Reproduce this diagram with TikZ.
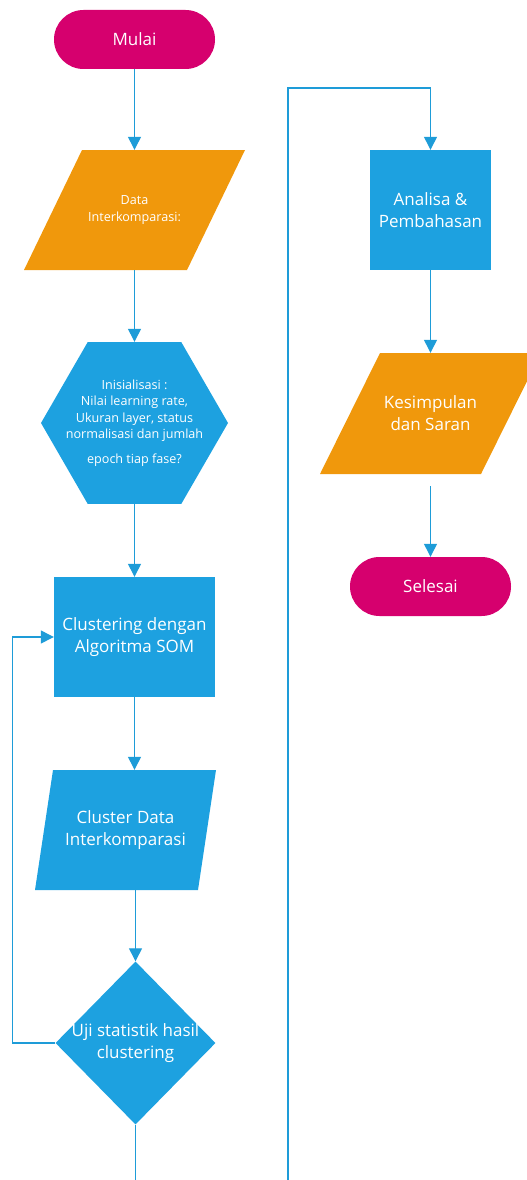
\documentclass[tikz,border=0pt]{standalone}
\usepackage{xcolor}
\usepackage{fontspec}
\setmainfont{Open Sans}
\usepackage{tikz}
\usetikzlibrary{arrows.meta,shapes.geometric,backgrounds}
\definecolor{AlurBiru}{HTML}{1DA1E0}
\definecolor{AlurGaris}{HTML}{1E9CD8}
\definecolor{AlurJingga}{HTML}{F0980C}
\definecolor{AlurMagenta}{HTML}{D6006E}

\begin{document}
\begin{tikzpicture}[x=1pt,y=-1pt,>={Triangle[width=13pt,length=13pt]},
    teks/.style={text=white, align=center, font=\fontsize{17}{22}\selectfont},
    tekskecil/.style={text=white, align=center, font=\fontsize{12.6}{16.5}\selectfont},
    terminal/.style={teks, fill=AlurMagenta, rounded corners=29.5pt, minimum width=161pt, minimum height=59pt, inner sep=0pt},
    proses/.style={teks, fill=AlurBiru, minimum width=161pt, minimum height=120pt, inner sep=0pt},
    iodata/.style={teks, minimum width=163pt, minimum height=120pt, inner sep=0pt},
    alur/.style={->, color=AlurGaris, line width=1.3pt}]
  \clip (0,0) rectangle (527,1180);
  % kolom kiri
  \node[terminal] (mulai) at (134.5,39.5) {Mulai};
  \node[iodata, tekskecil] (data) at (134.5,210) {Data\\Interkomparasi:};
  \node[regular polygon, regular polygon sides=6, fill=AlurBiru, minimum size=187pt, inner sep=0pt,
        label={[tekskecil]center:Inisialisasi :\\Nilai learning rate,\\Ukuran layer, status\\normalisasi dan jumlah\\[8pt]epoch tiap fase?}] (init) at (134.5,423) {};
  \node[proses] (som) at (134.5,637) {Clustering dengan\\Algoritma SOM};
  \node[iodata] (cluster) at (125.5,830) {Cluster Data\\Interkomparasi};
  \node[diamond, fill=AlurBiru, minimum width=160pt, minimum height=163pt, inner sep=0pt,
        label={[teks]center:Uji statistik hasil\\clustering}] (uji) at (135.5,1043) {};
  \coordinate (bawahkiri) at (135.5,1180);
  % kolom kanan
  \coordinate (bawahkanan) at (288,1180);
  \coordinate (atas) at (288,88);
  \node[proses, minimum width=121pt] (analisa) at (430.5,210) {Analisa \&\\Pembahasan};
  \node[iodata, minimum height=121pt] (simpulan) at (430.5,413.5) {Kesimpulan\\dan Saran};
  \node[terminal] (selesai) at (430.5,586.5) {Selesai};
  % jajaran genjang di belakang teks
  \begin{scope}[on background layer]
    \fill[AlurJingga] (data.center) ++(-110.5,60) -- ++(58,-120) -- ++(163,0) -- ++(-58,120) -- cycle;
    \fill[AlurBiru] (cluster.center) ++(-90.5,60) -- ++(18,-120) -- ++(163,0) -- ++(-18,120) -- cycle;
    \fill[AlurJingga] (simpulan.center) ++(-110.5,60.5) -- ++(60,-121) -- ++(161,0) -- ++(-60,121) -- cycle;
  \end{scope}
  % panah
  \draw[alur] (mulai) -- (data);
  \draw[alur] (data) -- (init);
  \draw[alur] (init) -- (som);
  \draw[alur] (som.south) -- (som.south |- cluster.north);
  \draw[alur] (cluster.south -| uji.north) -- (uji.north);
  \draw[alur] (uji.west) -- ++(-43,0) |- (som.west);
  \draw[alur, -] (uji.south) -- (bawahkiri);
  \draw[alur] (bawahkanan) -- (atas) -| (analisa.north);
  \draw[alur] (analisa) -- (simpulan);
  \draw[alur, shorten <=12pt] (simpulan) -- (selesai);
\end{tikzpicture}
\end{document}
